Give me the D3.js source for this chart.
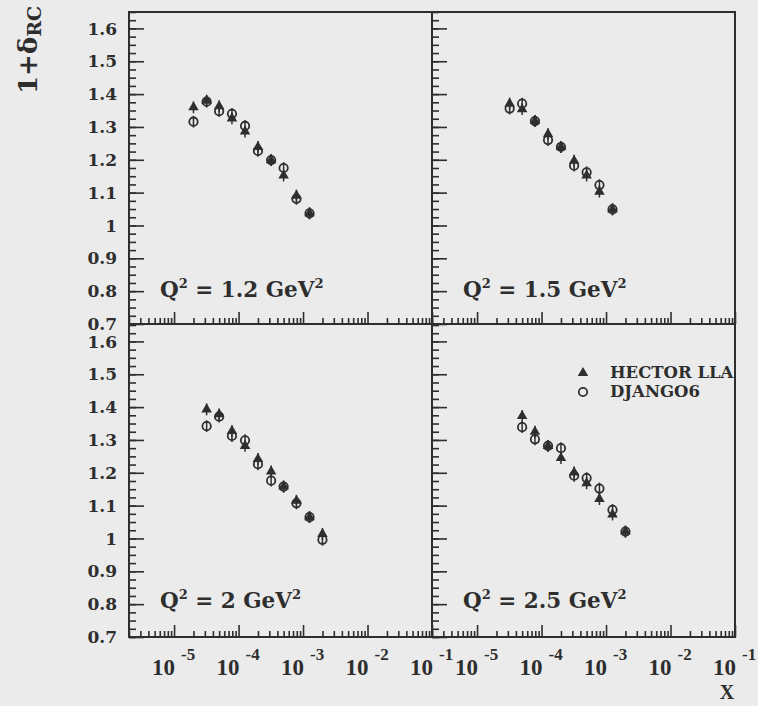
<!DOCTYPE html>
<html>
<head>
<meta charset="utf-8">
<script src="https://cdn.jsdelivr.net/npm/d3@7/dist/d3.min.js"></script>
<style>
  html, body { margin: 0; padding: 0; background: #ebebeb; }
  svg { display: block; }
</style>
</head>
<body>
<svg id="chart" width="758" height="706"></svg>
<script>
// ---- data: radiative correction factor 1+delta_RC versus x, four Q^2 bins ----
const q2Labels = ["1.2", "1.5", "2", "2.5"];
const seriesNames = ["HECTOR LLA", "DJANGO6"];

const xQ2_12  = [2.0e-5, 3.2e-5, 5.0e-5, 7.9e-5, 1.26e-4, 2.0e-4, 3.2e-4, 5.0e-4, 7.9e-4, 1.26e-3];
const hectorQ2_12 = [1.360, 1.380, 1.363, 1.326, 1.286, 1.239, 1.199, 1.152, 1.091, 1.037];
const djangoQ2_12 = [1.316, 1.377, 1.348, 1.340, 1.303, 1.227, 1.199, 1.175, 1.081, 1.037];

const xQ2_15  = [3.2e-5, 5.0e-5, 7.9e-5, 1.26e-4, 2.0e-4, 3.2e-4, 5.0e-4, 7.9e-4, 1.26e-3];
const hectorQ2_15 = [1.371, 1.354, 1.318, 1.278, 1.239, 1.197, 1.152, 1.103, 1.049];
const djangoQ2_15 = [1.356, 1.371, 1.318, 1.260, 1.239, 1.182, 1.162, 1.123, 1.049];

const xQ2_20  = [3.2e-5, 5.0e-5, 7.9e-5, 1.26e-4, 2.0e-4, 3.2e-4, 5.0e-4, 7.9e-4, 1.26e-3, 2.0e-3];
const hectorQ2_20 = [1.393, 1.378, 1.327, 1.282, 1.242, 1.204, 1.158, 1.115, 1.065, 1.014];
const djangoQ2_20 = [1.342, 1.371, 1.312, 1.299, 1.226, 1.176, 1.158, 1.107, 1.065, 0.996];

const xQ2_25  = [5.0e-5, 7.9e-5, 1.26e-4, 2.0e-4, 3.2e-4, 5.0e-4, 7.9e-4, 1.26e-3, 2.0e-3];
const hectorQ2_25 = [1.373, 1.325, 1.282, 1.245, 1.201, 1.168, 1.120, 1.073, 1.021];
const djangoQ2_25 = [1.339, 1.302, 1.282, 1.275, 1.191, 1.184, 1.152, 1.087, 1.021];

const statError = 0.018;

const yTickValues = [0.7, 0.8, 0.9, 1.0, 1.1, 1.2, 1.3, 1.4, 1.5, 1.6];
const yTickLabels = ["0.7", "0.8", "0.9", "1", "1.1", "1.2", "1.3", "1.4", "1.5", "1.6"];
const xDecadeExponents = [-5, -4, -3, -2, -1];

// ---- layout ----
const svg = d3.select("#chart");
const ink = "#2e2e2e";
const serifBold = "'DejaVu Serif', serif";
const timesBold = "'Liberation Serif', 'Times New Roman', serif";

const colX = [129, 432];
const rowY = [[324, 12], [637, 325]];
const panelW = 303;

const panels = [
  { q2: q2Labels[0], col: 0, row: 0, x: xQ2_12, hector: hectorQ2_12, django: djangoQ2_12 },
  { q2: q2Labels[1], col: 1, row: 0, x: xQ2_15, hector: hectorQ2_15, django: djangoQ2_15 },
  { q2: q2Labels[2], col: 0, row: 1, x: xQ2_20, hector: hectorQ2_20, django: djangoQ2_20 },
  { q2: q2Labels[3], col: 1, row: 1, x: xQ2_25, hector: hectorQ2_25, django: djangoQ2_25 }
];

const yMinor = d3.range(0.7, 1.6501, 0.025).map(v => +v.toFixed(3));
const xMajor = xDecadeExponents.map(e => Math.pow(10, e));
const xMinor = [];
for (let d = -6; d <= -2; d++) {
  for (let k = 2; k <= 9; k++) {
    const v = k * Math.pow(10, d);
    if (v >= 2e-6 && v <= 0.1) xMinor.push(v);
  }
}

panels.forEach(p => {
  const x = d3.scaleLog().domain([2e-6, 1e-1]).range([colX[p.col], colX[p.col] + panelW]);
  const y = d3.scaleLinear().domain([0.7, 1.65]).range(rowY[p.row]);
  const g = svg.append("g");

  // y ticks on the left edge, pointing inward
  const yAxisMinor = d3.axisLeft(y).tickValues(yMinor).tickSize(-7).tickFormat("");
  const yAxisMajor = d3.axisLeft(y).tickValues(yTickValues).tickSize(-15).tickFormat("");
  [yAxisMinor, yAxisMajor].forEach(ax => {
    const a = g.append("g").attr("transform", `translate(${colX[p.col]},0)`).call(ax);
    a.select(".domain").remove();
    a.selectAll("line").attr("stroke", ink).attr("stroke-width", 1.6);
  });

  // x ticks on the bottom edge, pointing inward
  const yBottom = rowY[p.row][0];
  const xAxisMinor = d3.axisBottom(x).tickValues(xMinor).tickSize(-6).tickFormat("");
  const xAxisMajor = d3.axisBottom(x).tickValues(xMajor).tickSize(-12).tickFormat("");
  [xAxisMinor, xAxisMajor].forEach(ax => {
    const a = g.append("g").attr("transform", `translate(0,${yBottom})`).call(ax);
    a.select(".domain").remove();
    a.selectAll("line").attr("stroke", ink).attr("stroke-width", 1.6);
  });

  // y tick labels on the left column only
  if (p.col === 0) {
    g.selectAll("text.ylab").data(yTickValues).enter().append("text")
      .attr("class", "ylab")
      .attr("x", colX[0] - 12)
      .attr("y", d => y(d))
      .attr("dy", "0.36em")
      .attr("text-anchor", "end")
      .attr("font-family", serifBold)
      .attr("font-weight", "bold")
      .attr("font-size", 17)
      .attr("fill", ink)
      .text((d, i) => yTickLabels[i]);
  }

  // x tick labels on the bottom row only
  if (p.row === 1) {
    xDecadeExponents.forEach(e => {
      const px = x(Math.pow(10, e));
      g.append("text")
        .attr("x", px + 1).attr("y", 675)
        .attr("text-anchor", "end")
        .attr("font-family", timesBold).attr("font-weight", "bold")
        .attr("font-size", 23).attr("fill", ink)
        .text("10");
      g.append("text")
        .attr("x", px + 7).attr("y", 660)
        .attr("font-family", timesBold).attr("font-weight", "bold")
        .attr("font-size", 17).attr("fill", ink)
        .text("-" + Math.abs(e));
    });
  }

  // error bars
  const pts = p.x.map((xv, i) => ({ x: xv, h: p.hector[i], d: p.django[i] }));
  ["d", "h"].forEach(key => {
    g.selectAll(null).data(pts).enter().append("line")
      .attr("x1", d => x(d.x)).attr("x2", d => x(d.x))
      .attr("y1", d => y(d[key] - statError)).attr("y2", d => y(d[key] + statError))
      .attr("stroke", ink).attr("stroke-width", 1.5);
  });

  // DJANGO6: open circles
  g.selectAll(null).data(pts).enter().append("circle")
    .attr("cx", d => x(d.x)).attr("cy", d => y(d.d)).attr("r", 4.2)
    .attr("fill", "none").attr("stroke", ink).attr("stroke-width", 1.8);

  // HECTOR LLA: filled triangles
  g.selectAll(null).data(pts).enter().append("path")
    .attr("d", d3.symbol().type(d3.symbolTriangle).size(48))
    .attr("transform", d => `translate(${x(d.x)},${y(d.h)})`)
    .attr("fill", ink);

  // Q^2 label
  const lab = g.append("text")
    .attr("x", colX[p.col] + 31)
    .attr("y", p.row === 0 ? 297 : 608)
    .attr("font-family", serifBold).attr("font-weight", "bold")
    .attr("font-size", 21.5).attr("fill", ink);
  lab.append("tspan").text("Q");
  lab.append("tspan").attr("font-size", 13).attr("dy", -9).text("2");
  lab.append("tspan").attr("dy", 9).text(" = " + p.q2 + " GeV");
  lab.append("tspan").attr("font-size", 13).attr("dy", -9).text("2");
});

// frame and dividers
svg.append("rect")
  .attr("x", colX[0]).attr("y", 12)
  .attr("width", 2 * panelW).attr("height", 625)
  .attr("fill", "none").attr("stroke", ink).attr("stroke-width", 2);
svg.append("line").attr("x1", colX[1]).attr("x2", colX[1]).attr("y1", 12).attr("y2", 637)
  .attr("stroke", ink).attr("stroke-width", 2);
svg.append("line").attr("x1", colX[0]).attr("x2", colX[0] + 2 * panelW).attr("y1", 324).attr("y2", 324)
  .attr("stroke", ink).attr("stroke-width", 2);

// legend
const legend = svg.append("g");
legend.append("path")
  .attr("d", d3.symbol().type(d3.symbolTriangle).size(48))
  .attr("transform", "translate(583,373)").attr("fill", ink);
legend.append("circle").attr("cx", 583).attr("cy", 392).attr("r", 4.2)
  .attr("fill", "none").attr("stroke", ink).attr("stroke-width", 1.8);
legend.selectAll("text").data(seriesNames).enter().append("text")
  .attr("x", 610).attr("y", (d, i) => 378 + i * 19)
  .attr("font-family", serifBold).attr("font-weight", "bold")
  .attr("font-size", 16.5).attr("fill", ink)
  .text(d => d);

// axis titles
const yTitle = svg.append("text")
  .attr("transform", "translate(37,94) rotate(-90)")
  .attr("font-family", serifBold).attr("font-weight", "bold")
  .attr("font-size", 26).attr("fill", ink);
yTitle.append("tspan").text("1+δ");
yTitle.append("tspan").attr("font-size", 19).attr("dy", 4).text("RC");

svg.append("text")
  .attr("x", 727).attr("y", 699).attr("text-anchor", "middle")
  .attr("font-family", timesBold).attr("font-weight", "bold")
  .attr("font-size", 20).attr("fill", ink)
  .text("X");
</script>
</body>
</html>
